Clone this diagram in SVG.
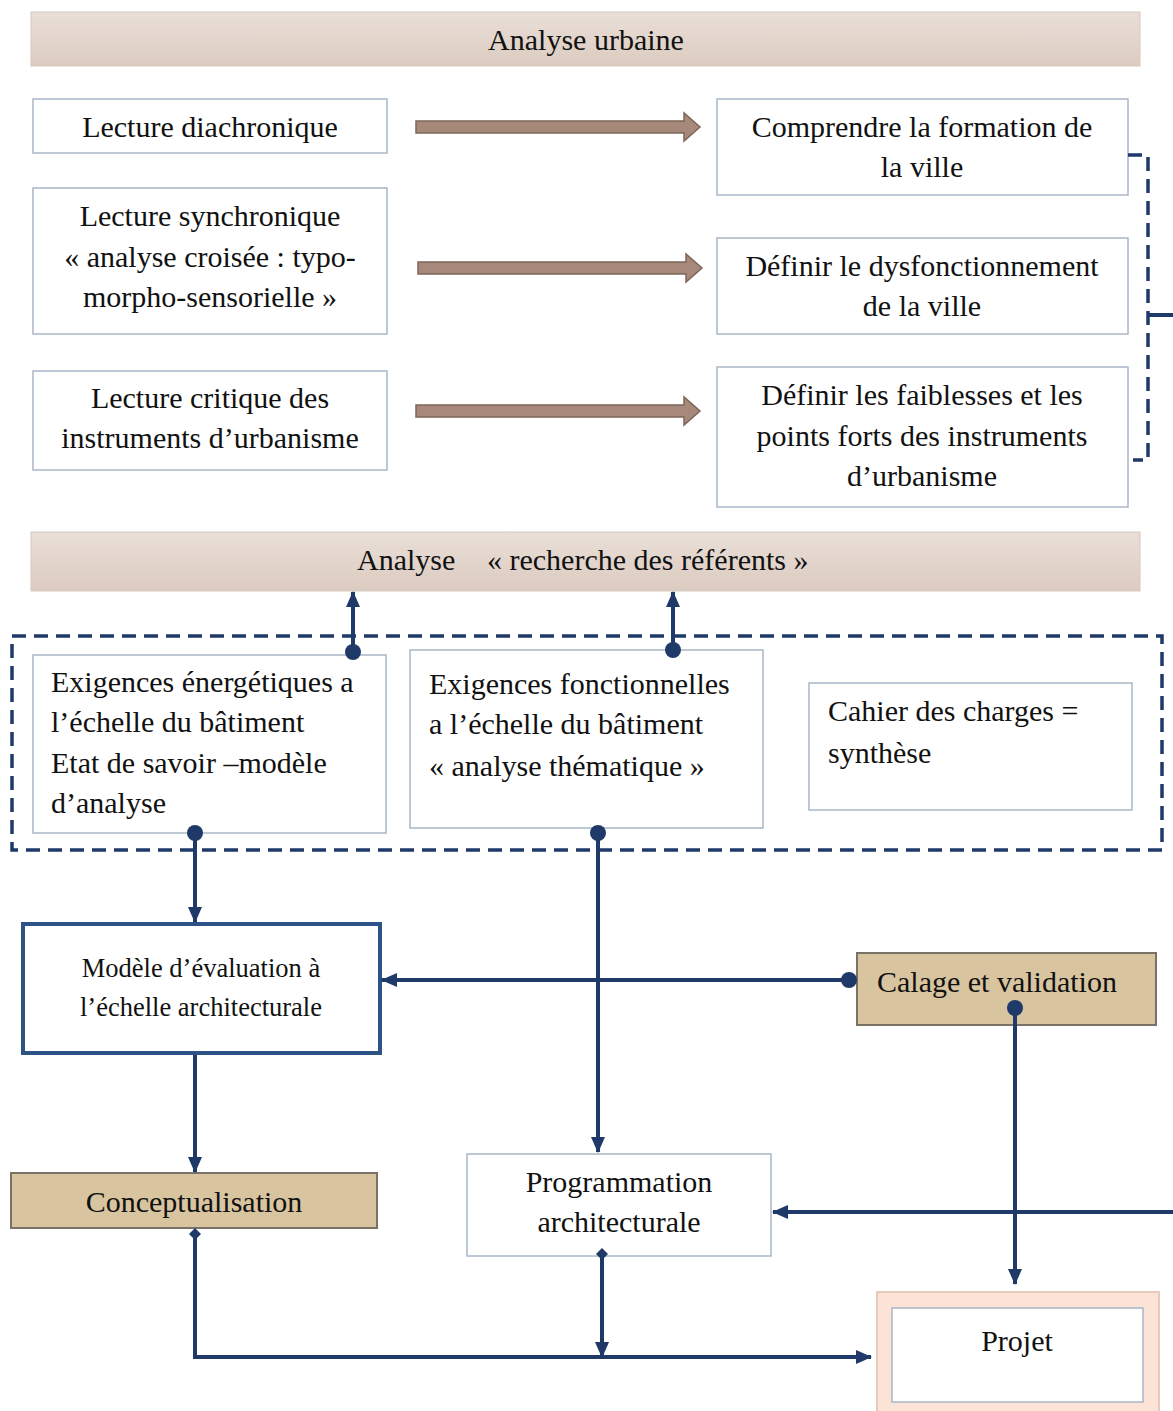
<svg xmlns="http://www.w3.org/2000/svg" width="1173" height="1411" viewBox="0 0 1173 1411">
<style>
text{font-family:"Liberation Serif","Times New Roman",serif;fill:#111;font-size:30px}
.c{text-anchor:middle}
.box{fill:#fff;stroke:#a9b7c8;stroke-width:1.5}
.hdr{fill:url(#hg);stroke:#d6c8be;stroke-width:1}
.tan{fill:#d9c4a0;stroke:#7a7266;stroke-width:2}
.blk{fill:#a6897a;stroke:#7e6659;stroke-width:1.5}
.ln{fill:none;stroke:#1f3a68;stroke-width:4}
.dash{fill:none;stroke:#1f3a68;stroke-width:3.5;stroke-dasharray:14 8}
</style>
<defs>
<linearGradient id="hg" x1="0" y1="0" x2="0" y2="1">
<stop offset="0" stop-color="#e9dfd8"/><stop offset="1" stop-color="#dccbc0"/>
</linearGradient>
<marker id="ar" markerUnits="userSpaceOnUse" viewBox="0 0 16 16" refX="15" refY="8" markerWidth="16" markerHeight="16" orient="auto"><path d="M0,1 L16,8 L0,15 Z" fill="#1f3a68"/></marker>
<marker id="dot" markerUnits="userSpaceOnUse" viewBox="0 0 16 16" refX="8" refY="8" markerWidth="16" markerHeight="16" orient="auto"><circle cx="8" cy="8" r="8" fill="#1f3a68"/></marker>
<marker id="dia" markerUnits="userSpaceOnUse" viewBox="0 0 12 12" refX="6" refY="6" markerWidth="12" markerHeight="12" orient="auto"><path d="M0,6 L6,0 L12,6 L6,12 Z" fill="#1f3a68"/></marker>
</defs>

<g id="hdr-urbaine"><rect class="hdr" x="31" y="12" width="1109" height="54"/><text class="c" x="586" y="50">Analyse urbaine</text></g>

<g id="n-diachro"><rect class="box" x="33" y="99" width="354" height="54"/><text class="c" x="210" y="137">Lecture diachronique</text></g>
<g id="n-synchro"><rect class="box" x="33" y="188" width="354" height="146"/><text class="c" x="210" y="226">Lecture synchronique</text><text class="c" x="210" y="267">« analyse croisée : typo-</text><text class="c" x="210" y="307">morpho-sensorielle »</text></g>
<g id="n-critique"><rect class="box" x="33" y="371" width="354" height="99"/><text class="c" x="210" y="408">Lecture critique des</text><text class="c" x="210" y="448">instruments d’urbanisme</text></g>

<g id="n-formation"><rect class="box" x="717" y="99" width="411" height="96"/><text class="c" x="922" y="137">Comprendre la formation de</text><text class="c" x="922" y="177">la ville</text></g>
<g id="n-dysf"><rect class="box" x="717" y="238" width="411" height="96"/><text class="c" x="922" y="276">Définir le dysfonctionnement</text><text class="c" x="922" y="316">de la ville</text></g>
<g id="n-faibl"><rect class="box" x="717" y="367" width="411" height="140"/><text class="c" x="922" y="405">Définir les faiblesses et les</text><text class="c" x="922" y="446">points forts des instruments</text><text class="c" x="922" y="486">d’urbanisme</text></g>

<g id="hdr-referents"><rect class="hdr" x="31" y="532" width="1109" height="59"/><text x="357" y="570">Analyse<tspan x="487">« recherche des référents »</tspan></text></g>

<g id="n-energ"><rect class="box" x="33" y="655" width="353" height="178"/><text x="51" y="692">Exigences énergétiques a</text><text x="51" y="732">l’échelle du bâtiment</text><text x="51" y="773">Etat de savoir –modèle</text><text x="51" y="813">d’analyse</text></g>
<g id="n-fonct"><rect class="box" x="410" y="650" width="353" height="178"/><text x="429" y="694">Exigences fonctionnelles</text><text x="429" y="734">a l’échelle du bâtiment</text><text x="429" y="776">« analyse thématique  »</text></g>
<g id="n-cahier"><rect class="box" x="809" y="683" width="323" height="127"/><text x="828" y="721">Cahier des charges =</text><text x="828" y="763">synthèse</text></g>

<g id="n-modele"><rect x="23" y="924" width="357" height="129" fill="#fff" stroke="#2c5286" stroke-width="4"/><text class="c" x="201" y="977" style="font-size:26.5px">Modèle d’évaluation à</text><text class="c" x="201" y="1016" style="font-size:26.5px">l’échelle architecturale</text></g>
<g id="n-calage"><rect class="tan" x="857" y="953" width="299" height="72"/><text x="877" y="992">Calage et validation</text></g>
<g id="n-concept"><rect class="tan" x="11" y="1173" width="366" height="55"/><text class="c" x="194" y="1212">Conceptualisation</text></g>
<g id="n-prog"><rect class="box" x="467" y="1154" width="304" height="102"/><text class="c" x="619" y="1192">Programmation</text><text class="c" x="619" y="1232">architecturale</text></g>
<g id="n-projet"><rect x="877" y="1292" width="282" height="125" fill="#fbe3d6" stroke="#e6cbbd" stroke-width="2"/><rect x="892" y="1308" width="251" height="94" fill="#fff" stroke="#a9b7c8" stroke-width="1.5"/><text class="c" x="1017" y="1351">Projet</text></g>

<g id="connectors">
<path class="blk" d="M416,121 H684 V113 L700,127 L684,141 V133 H416 Z"/>
<path class="blk" d="M418,262 H686 V254 L702,268 L686,282 V274 H418 Z"/>
<path class="blk" d="M416,405 H684 V397 L700,411 L684,425 V417 H416 Z"/>
<path class="dash" d="M1128,155 H1148 V460 H1133"/>
<path class="ln" d="M1148,315 H1173" stroke-width="3"/>
<rect class="dash" x="12" y="636" width="1150" height="214"/>
<path class="ln" d="M353,652 V592" marker-start="url(#dot)" marker-end="url(#ar)"/>
<path class="ln" d="M673,650 V592" marker-start="url(#dot)" marker-end="url(#ar)"/>
<path class="ln" d="M195,833 V922" marker-start="url(#dot)" marker-end="url(#ar)"/>
<path class="ln" d="M598,833 V1152" marker-start="url(#dot)" marker-end="url(#ar)"/>
<path class="ln" d="M849,980 H382" marker-start="url(#dot)" marker-end="url(#ar)"/>
<path class="ln" d="M1015,1008 V1284" marker-start="url(#dot)" marker-end="url(#ar)"/>
<path class="ln" d="M195,1055 V1172" marker-end="url(#ar)"/>
<path class="ln" d="M1173,1212 H773" marker-end="url(#ar)"/>
<path class="ln" d="M195,1234 V1357 H871" marker-start="url(#dia)" marker-end="url(#ar)"/>
<path class="ln" d="M602,1254 V1357" marker-start="url(#dia)" marker-end="url(#ar)"/>
</g>
</svg>
